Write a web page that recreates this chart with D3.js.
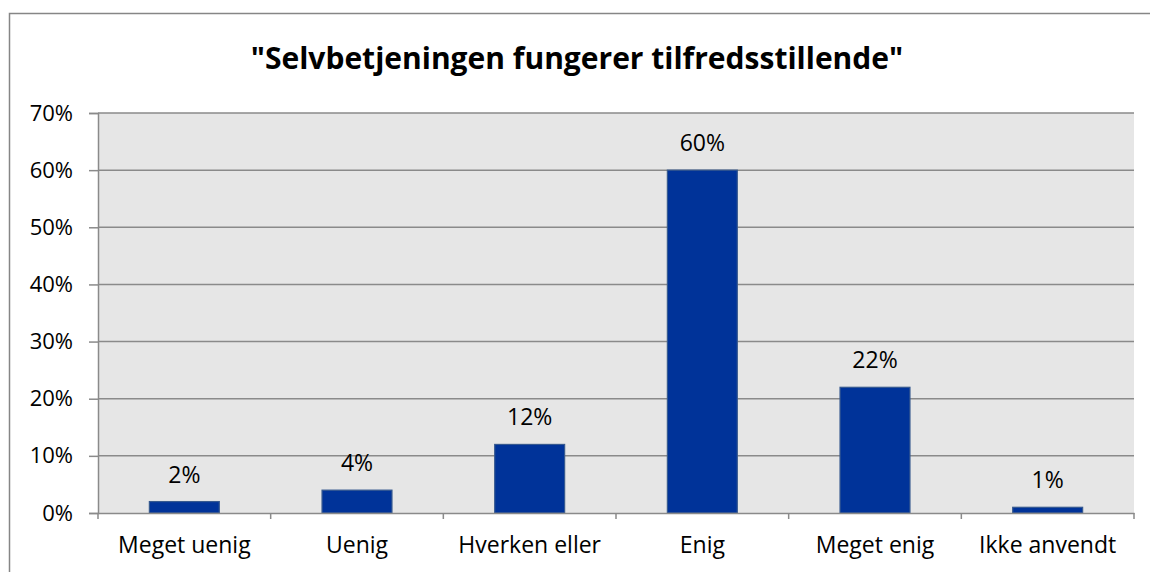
<!DOCTYPE html>
<html lang="da">
  <head>
    <meta charset="UTF-8" />
    <title>Selvbetjeningen</title>
    <style>
      body { margin: 0; background: #fff; }
      text { font-family: "Open Sans", sans-serif; fill: #000; }
    </style>
    <script src="https://d3js.org/d3.v7.min.js"></script>
  </head>
  <body>
    <svg width="1150" height="572"></svg>
    <script>
      var categories = ['Meget uenig', 'Uenig', 'Hverken eller', 'Enig', 'Meget enig', 'Ikke anvendt']
      var values = [2, 4, 12, 60, 22, 1]
      var yTicks = [0, 10, 20, 30, 40, 50, 60, 70]
      var title = '"Selvbetjeningen fungerer tilfredsstillende"'

      var plot = { left: 98, right: 1134, top: 113, bottom: 513 }
      var svg = d3.select('svg')

      // outer chart frame
      svg.append('rect')
        .attr('x', 9.5).attr('y', 13.5)
        .attr('width', 1150).attr('height', 600)
        .attr('fill', '#fff').attr('stroke', '#868686').attr('stroke-width', 1.5)

      svg.append('text')
        .attr('x', 577).attr('y', 69)
        .attr('text-anchor', 'middle')
        .attr('font-size', 30).attr('font-weight', 'bold')
        .text(title)

      var x = d3.scaleBand().domain(categories).range([plot.left, plot.right])
      var y = d3.scaleLinear().domain([0, 70]).range([plot.bottom, plot.top])

      svg.append('rect')
        .attr('x', plot.left).attr('y', plot.top)
        .attr('width', plot.right - plot.left).attr('height', plot.bottom - plot.top)
        .attr('fill', '#e6e6e6')

      // gridlines
      svg.append('g').selectAll('line')
        .data(yTicks.filter(d => d > 0))
        .join('line')
        .attr('x1', plot.left).attr('x2', plot.right)
        .attr('y1', d => y(d)).attr('y2', d => y(d))
        .attr('stroke', '#8a8a8a').attr('stroke-width', 1.5)

      // bars
      var barW = x.bandwidth() * 0.405
      svg.append('g').selectAll('rect')
        .data(values)
        .join('rect')
        .attr('x', (d, i) => x(categories[i]) + (x.bandwidth() - barW) / 2)
        .attr('y', d => y(d))
        .attr('width', barW)
        .attr('height', d => y(0) - y(d))
        .attr('fill', '#003399')
        .attr('stroke', '#36598f').attr('stroke-width', 1.2)

      svg.append('g').selectAll('text')
        .data(values)
        .join('text')
        .attr('x', (d, i) => x(categories[i]) + x.bandwidth() / 2)
        .attr('y', d => y(d) - 19)
        .attr('text-anchor', 'middle')
        .attr('font-size', 23)
        .text(d => d + '%')

      // y axis
      var yAxis = d3.axisLeft(y).tickValues(yTicks).tickSize(9).tickPadding(16)
        .tickFormat(d => d + '%')
      var gy = svg.append('g')
        .attr('transform', `translate(${plot.left},0)`)
        .call(yAxis)
      gy.select('.domain').attr('stroke', '#8a8a8a').attr('stroke-width', 1.5)
      gy.selectAll('.tick line').attr('stroke', '#8a8a8a').attr('stroke-width', 1.5)
      gy.selectAll('.tick text').attr('font-size', 22).attr('font-family', 'Open Sans').attr('fill', '#000')

      // x axis
      var xAxis = d3.axisBottom(x).tickSize(0).tickPadding(24)
      var gx = svg.append('g')
        .attr('transform', `translate(0,${plot.bottom})`)
        .call(xAxis)
      gx.select('.domain').attr('stroke', '#8a8a8a').attr('stroke-width', 1.5)
      gx.selectAll('.tick text').attr('font-size', 23).attr('font-family', 'Open Sans').attr('fill', '#000')
      gx.selectAll('line.sep')
        .data(categories.map(c => x(c)).concat([plot.right]))
        .join('line')
        .attr('class', 'sep')
        .attr('x1', d => d).attr('x2', d => d)
        .attr('y1', 0).attr('y2', 6)
        .attr('stroke', '#8a8a8a').attr('stroke-width', 1.5)
    </script>
  </body>
</html>
